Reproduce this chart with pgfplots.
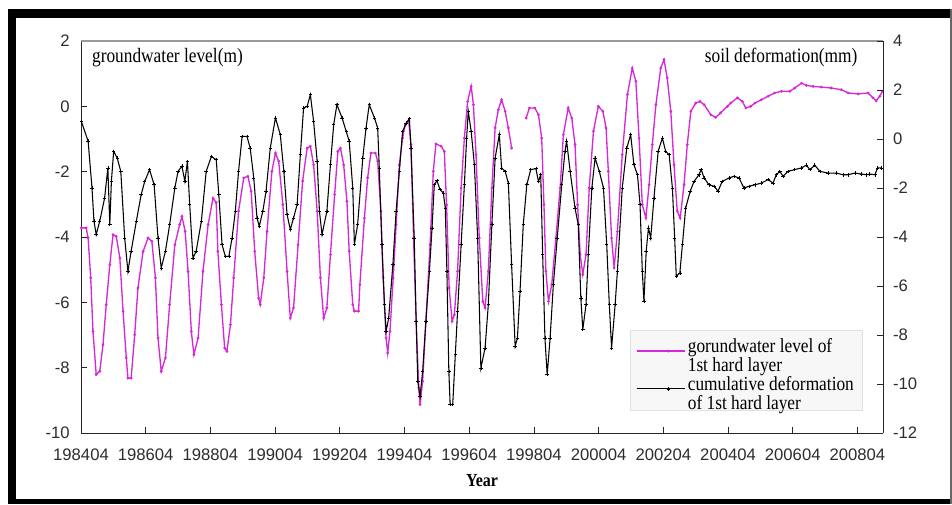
\documentclass[border=0pt]{standalone}
\usepackage{fontspec}
\usepackage{graphicx}
\setmainfont{Liberation Serif}
\newfontfamily\arialf{Liberation Sans}
\usepackage{pgfplots}
\pgfplotsset{compat=1.18}
\definecolor{mag}{RGB}{214,40,214}
\definecolor{tickgray}{RGB}{45,45,45}

\pgfplotstableread{
x y
1984.26 -3.72
1984.41 -3.72
1984.47 -4.03
1984.55 -5.25
1984.62 -6.89
1984.72 -8.21
1984.83 -8.11
1984.93 -7.30
1985.03 -6.07
1985.14 -4.85
1985.24 -3.93
1985.34 -3.98
1985.45 -4.64
1985.55 -6.27
1985.65 -7.70
1985.70 -8.32
1985.80 -8.32
1985.91 -6.99
1986.01 -5.56
1986.17 -4.44
1986.32 -4.03
1986.44 -4.13
1986.55 -5.25
1986.63 -7.09
1986.73 -8.11
1986.86 -7.70
1986.99 -6.07
1987.15 -4.24
1987.30 -3.62
1987.37 -3.37
1987.47 -3.83
1987.56 -5.05
1987.66 -6.89
1987.74 -7.60
1987.87 -7.09
1988.02 -5.05
1988.18 -3.62
1988.33 -2.81
1988.43 -2.95
1988.48 -4.44
1988.59 -6.07
1988.69 -7.40
1988.76 -7.50
1988.87 -6.68
1988.97 -5.25
1989.12 -3.21
1989.28 -2.19
1989.41 -2.14
1989.51 -2.60
1989.62 -4.44
1989.74 -5.87
1989.79 -6.07
1989.90 -5.25
1990.00 -3.83
1990.15 -1.99
1990.26 -1.43
1990.36 -1.68
1990.49 -3.01
1990.62 -5.05
1990.72 -6.48
1990.82 -6.17
1990.96 -4.24
1991.10 -2.29
1991.24 -1.28
1991.34 -1.22
1991.44 -1.79
1991.55 -3.21
1991.65 -5.25
1991.75 -6.48
1991.85 -6.17
1991.96 -4.54
1992.09 -2.70
1992.19 -1.38
1992.27 -1.28
1992.37 -1.79
1992.47 -2.91
1992.54 -4.44
1992.65 -6.07
1992.70 -6.27
1992.83 -6.27
1992.87 -5.46
1993.01 -3.42
1993.11 -2.19
1993.21 -1.43
1993.35 -1.43
1993.42 -1.68
1993.52 -3.21
1993.59 -5.25
1993.68 -7.09
1993.73 -7.55
1993.80 -6.89
1993.90 -5.25
1993.99 -3.62
1994.09 -1.79
1994.19 -0.97
1994.27 -0.58
1994.38 -0.46
1994.45 -1.17
1994.53 -4.03
1994.61 -6.58
1994.69 -8.62
1994.73 -9.13
1994.81 -8.42
1994.91 -6.58
1995.04 -4.24
1995.14 -1.99
1995.22 -1.15
1995.38 -1.22
1995.48 -1.38
1995.55 -3.01
1995.63 -5.56
1995.72 -6.58
1995.79 -6.38
1995.89 -5.05
1996.00 -2.50
1996.10 -0.97
1996.20 0.15
1996.31 0.61
1996.38 0.05
1996.46 -1.48
1996.56 -4.03
1996.67 -5.97
1996.74 -6.17
1996.84 -5.05
1996.95 -2.50
1997.05 -0.66
1997.15 -0.10
1997.25 0.20
1997.36 -0.15
1997.46 -0.66
1997.56 -1.28
1997.80 nan
1998.01 -0.36
1998.11 -0.05
1998.28 -0.05
1998.39 -0.26
1998.49 -0.97
1998.56 -3.01
1998.62 -5.05
1998.70 -5.97
1998.80 -5.46
1998.93 -4.03
1999.06 -2.50
1999.16 -0.87
1999.31 -0.05
1999.42 -0.36
1999.52 -1.17
1999.60 -3.01
1999.68 -4.54
1999.76 -5.15
1999.86 -4.54
1999.96 -2.50
2000.09 -0.76
2000.24 0.00
2000.38 -0.15
2000.48 -0.66
2000.55 -1.99
2000.65 -4.03
2000.73 -4.95
2000.83 -3.83
2000.98 -1.48
2001.14 0.36
2001.29 1.17
2001.40 0.77
2001.50 -0.97
2001.60 -3.01
2001.71 -3.42
2001.81 -2.40
2001.91 -1.17
2002.02 0.05
2002.17 1.17
2002.27 1.43
2002.37 0.87
2002.48 -0.15
2002.58 -1.79
2002.68 -3.21
2002.77 -3.42
2002.89 -2.40
2002.99 -1.17
2003.10 -0.15
2003.25 0.10
2003.38 0.15
2003.51 0.05
2003.72 -0.26
2003.87 -0.34
2004.02 -0.20
2004.23 0.00
2004.33 0.10
2004.54 0.26
2004.69 0.15
2004.80 -0.05
2004.95 0.00
2005.08 0.10
2005.28 0.20
2005.49 0.31
2005.69 0.41
2005.90 0.46
2006.16 0.46
2006.31 0.56
2006.52 0.71
2006.67 0.64
2006.88 0.61
2007.13 0.59
2007.44 0.56
2007.75 0.51
2007.96 0.41
2008.27 0.38
2008.58 0.41
2008.73 0.26
2008.83 0.17
2008.94 0.31
2009.02 0.46
}\gwtable

\pgfplotstableread{
x y
1984.26 0.72
1984.47 -0.09
1984.59 -2.00
1984.65 -3.35
1984.72 -3.90
1984.83 -3.35
1984.98 -2.41
1985.08 -1.18
1985.14 -3.50
1985.19 -1.71
1985.26 -0.50
1985.37 -0.78
1985.48 -1.32
1985.60 -4.04
1985.70 -5.40
1985.80 -4.58
1985.96 -3.36
1986.11 -2.27
1986.22 -1.73
1986.37 -1.25
1986.51 -1.87
1986.63 -4.04
1986.73 -5.27
1986.86 -4.58
1986.99 -3.50
1987.15 -2.00
1987.25 -1.32
1987.37 -1.11
1987.46 -1.73
1987.54 -0.91
1987.61 -2.68
1987.71 -4.86
1987.81 -4.58
1987.97 -3.36
1988.12 -1.32
1988.28 -0.71
1988.43 -0.85
1988.51 -2.27
1988.61 -4.31
1988.71 -4.79
1988.82 -4.79
1988.92 -4.04
1989.02 -2.95
1989.12 -1.32
1989.23 0.11
1989.38 0.11
1989.48 -0.37
1989.59 -1.59
1989.69 -3.22
1989.76 -3.56
1989.87 -2.95
1989.97 -2.13
1990.10 -0.37
1990.26 0.86
1990.41 0.18
1990.52 -1.32
1990.62 -3.09
1990.72 -3.70
1990.82 -3.22
1990.93 -2.68
1991.03 -0.64
1991.13 1.27
1991.24 1.33
1991.34 1.81
1991.44 0.72
1991.55 -0.91
1991.62 -2.95
1991.70 -3.90
1991.85 -2.95
1991.96 -1.05
1992.06 0.58
1992.16 1.40
1992.32 0.86
1992.45 0.30
1992.54 -0.09
1992.65 -2.00
1992.70 -4.31
1992.80 -3.50
1992.96 -0.78
1993.06 0.45
1993.16 1.40
1993.32 0.86
1993.42 0.45
1993.47 -1.18
1993.55 -4.31
1993.63 -6.76
1993.68 -7.85
1993.76 -7.31
1993.89 -5.13
1993.99 -2.95
1994.09 -1.32
1994.19 0.31
1994.30 0.65
1994.40 0.83
1994.45 -0.37
1994.55 -4.04
1994.61 -7.44
1994.66 -9.89
1994.73 -10.50
1994.81 -9.48
1994.91 -7.44
1995.02 -5.40
1995.10 -3.63
1995.17 -1.87
1995.25 -1.70
1995.35 -2.07
1995.45 -2.20
1995.51 -2.82
1995.56 -5.40
1995.62 -9.48
1995.66 -10.84
1995.74 -10.84
1995.82 -8.80
1995.89 -7.03
1996.00 -4.31
1996.10 -1.87
1996.17 0.04
1996.22 1.13
1996.31 0.31
1996.41 -1.05
1996.51 -4.04
1996.61 -9.35
1996.74 -8.53
1996.84 -6.76
1996.95 -3.50
1997.05 -0.78
1997.18 0.18
1997.25 -1.18
1997.36 -1.32
1997.46 -1.80
1997.56 -5.13
1997.67 -8.46
1997.74 -8.12
1997.82 -6.22
1997.92 -3.50
1998.03 -1.87
1998.15 -1.25
1998.31 -1.21
1998.39 -1.73
1998.46 -1.46
1998.52 -4.72
1998.59 -8.12
1998.66 -9.62
1998.75 -8.12
1998.85 -5.95
1998.97 -4.04
1999.11 -1.87
1999.21 -0.50
1999.26 -0.09
1999.37 -1.32
1999.52 -2.82
1999.62 -3.50
1999.70 -6.49
1999.76 -7.78
1999.86 -6.76
1999.93 -4.72
2000.04 -2.00
2000.14 -0.78
2000.27 -1.32
2000.40 -2.00
2000.50 -4.31
2000.58 -6.76
2000.65 -8.53
2000.76 -6.76
2000.83 -5.40
2000.98 -2.00
2001.12 -0.37
2001.24 0.18
2001.34 -1.05
2001.45 -1.46
2001.53 -2.68
2001.60 -5.40
2001.65 -6.62
2001.72 -4.58
2001.79 -3.63
2001.86 -4.04
2001.96 -2.41
2002.09 -0.50
2002.22 0.04
2002.32 -0.50
2002.43 -0.64
2002.53 -2.00
2002.60 -4.04
2002.65 -5.60
2002.76 -5.47
2002.84 -4.31
2002.94 -2.82
2003.08 -2.13
2003.20 -1.73
2003.35 -1.46
2003.42 -1.25
2003.51 -1.59
2003.66 -1.87
2003.82 -1.93
2003.94 -2.13
2004.07 -1.73
2004.28 -1.59
2004.44 -1.52
2004.59 -1.59
2004.74 -2.00
2004.90 -1.93
2005.08 -1.87
2005.28 -1.80
2005.49 -1.66
2005.64 -1.80
2005.74 -1.46
2005.85 -1.32
2005.95 -1.52
2006.10 -1.32
2006.31 -1.25
2006.52 -1.18
2006.67 -1.07
2006.78 -1.25
2006.93 -1.07
2007.09 -1.32
2007.34 -1.39
2007.60 -1.39
2007.80 -1.46
2007.96 -1.46
2008.17 -1.39
2008.37 -1.43
2008.53 -1.46
2008.63 -1.43
2008.79 -1.46
2008.87 -1.18
2008.99 -1.18
}\deftable

\begin{document}
\begin{tikzpicture}[x=1pt,y=1pt]
\useasboundingbox (0,0) rectangle (714,378);
\fill[white] (0,0) rectangle (714,378);
\fill[black] (6,364.5) rectangle (714,371.25);
\fill[black] (6,0) rectangle (12,371.25);
\fill[black] (6,0) rectangle (714,3.75);
\fill[black!60] (712.8,0) rectangle (714,371.25);

\begin{axis}[
  at={(60.75pt,53.25pt)}, anchor=south west, scale only axis,
  width=601.5pt, height=294pt,
  xmin=1984.25, xmax=2009.04, ymin=-10, ymax=2,
  axis x line*=bottom, axis y line*=left,
  axis line style={black!85, line width=0.7pt},
  tick align=inside, major tick length=4.5pt,
  tick style={black!85, line width=0.6pt},
  xtick={1984.25,1986.25,1988.25,1990.25,1992.25,1994.25,1996.25,1998.25,2000.25,2002.25,2004.25,2006.25,2008.25},
  xticklabels={198404,198604,198804,199004,199204,199404,199604,199804,200004,200204,200404,200604,200804},
  ytick={-10,-8,-6,-4,-2,0,2},
  yticklabels={-10,-8,-6,-4,-2,0,2},
  tick label style={font=\arialf\fontsize{12.5}{14}\selectfont, text=tickgray},
  yticklabel style={xshift=-5pt},
  xticklabel style={yshift=-8pt},
  unbounded coords=jump,
  clip=false,
]
\draw[black!40, line width=0.8pt] (rel axis cs:0,1) -- (rel axis cs:1,1);
\addplot[mag, line width=1pt, mark=*, mark size=0.45pt, mark options={mag}] table[x=x,y=y] {\gwtable};
\node[anchor=west, font=\fontsize{13}{14}\selectfont] at (rel axis cs:0.008,0.957) {\scalebox{1}[1.18]{groundwater level(m)}};
\node[anchor=east, font=\fontsize{13}{14}\selectfont] at (rel axis cs:0.974,0.957) {\scalebox{1}[1.18]{soil deformation(mm)}};
\node[font=\bfseries\fontsize{12}{14}\selectfont] at (rel axis cs:0.5,0) [yshift=-35.5pt] {\scalebox{1}[1.15]{Year}};
\end{axis}

\begin{axis}[
  at={(60.75pt,53.25pt)}, anchor=south west, scale only axis,
  width=601.5pt, height=294pt,
  xmin=1984.25, xmax=2009.04, ymin=-12, ymax=4,
  axis x line=none, axis y line*=right,
  axis line style={black!85, line width=0.7pt},
  tick align=inside, major tick length=4.5pt,
  tick style={black!85, line width=0.6pt},
  ytick={-12,-10,-8,-6,-4,-2,0,2,4},
  yticklabels={-12,-10,-8,-6,-4,-2,0,2,4},
  tick label style={font=\arialf\fontsize{12.5}{14}\selectfont, text=tickgray},
  yticklabel style={xshift=4pt},
  legend style={at={(rel axis cs:0.974,0.263)}, anchor=north east,
    draw=black!12, fill=black!3, font=\fontsize{13}{11.5}\selectfont,
    inner xsep=4pt, inner ysep=4pt, row sep=5pt},
  legend cell align=left,
  legend image code/.code={\path (0pt,0pt) -- (36pt,0pt);\draw[mark repeat=2,mark phase=2,#1] plot coordinates {(12pt,0pt) (24pt,0pt) (36pt,0pt)};},
]
\addlegendimage{mag, line width=1pt, mark=*, mark size=0.45pt}
\addlegendentry{\scalebox{1}[1.15]{\begin{tabular}{@{}l@{}}gorundwater level of\\1st hard layer\end{tabular}}}
\addplot[black, line width=0.8pt, mark=+, mark size=1.3pt, mark options={line width=0.5pt}] table[x=x,y=y] {\deftable};
\addlegendentry{\scalebox{1}[1.15]{\begin{tabular}{@{}l@{}}cumulative deformation\\of 1st hard layer\end{tabular}}}
\end{axis}
\end{tikzpicture}
\end{document}
